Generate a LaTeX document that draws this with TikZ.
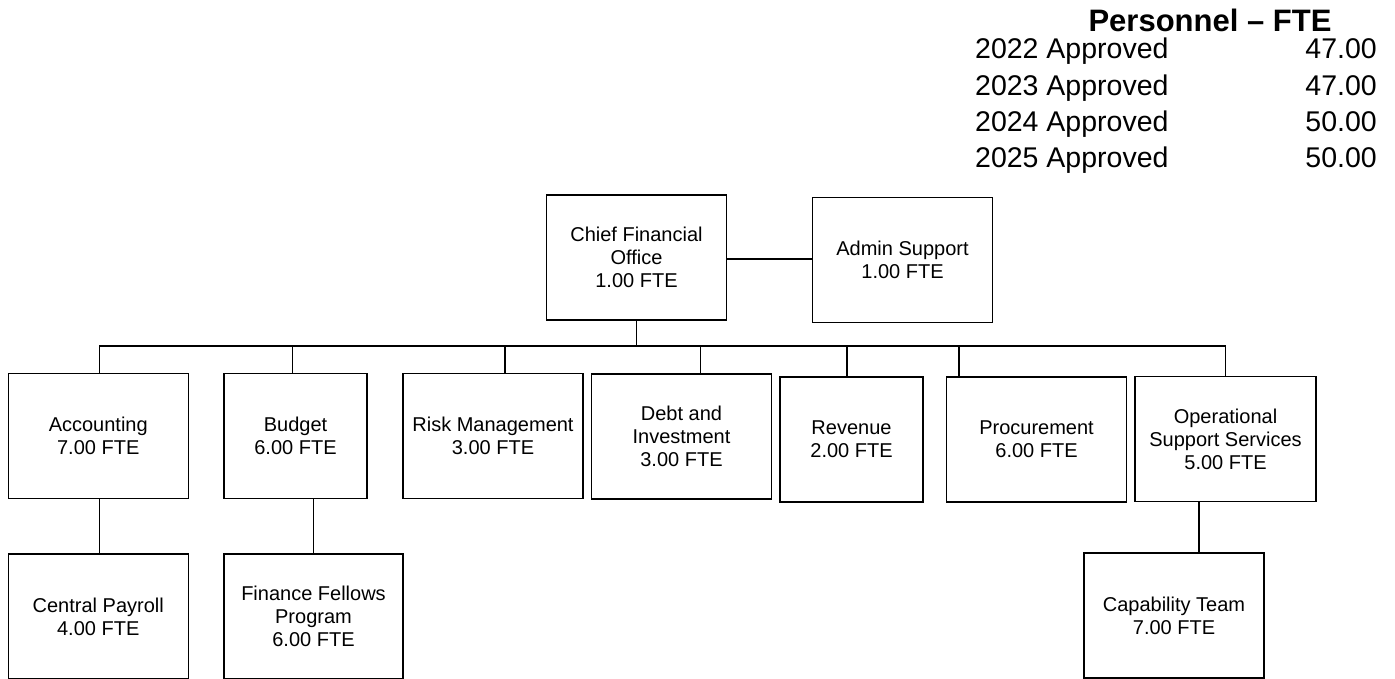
\documentclass[tikz,border=0pt]{standalone}
\usepackage{fontspec}
\setmainfont{Liberation Sans}
\usetikzlibrary{positioning}

\begin{document}
\begin{tikzpicture}[x=1pt,y=-1pt]
    \tikzstyle{unit}=[rectangle, draw=black, line width=1.5pt, align=center, inner sep=0pt, minimum width=180pt, minimum height=125pt, font=\fontsize{20}{23}\selectfont]
    \tikzstyle{narrow}=[unit, minimum width=143pt]
    \tikzstyle{link}=[line width=1.5pt]
    \tikzstyle{fte}=[inner sep=0pt, font=\fontsize{28.5}{34}\selectfont]

      \useasboundingbox (0,0) rectangle (1395,679);

      % personnel table
      \node[anchor=base, inner sep=0pt, font=\bfseries\fontsize{31}{36}\selectfont] (fte head) at (1210,32) {Personnel – FTE};
      \foreach \yr/\val [count=\i] in {2022/47.00, 2023/47.00, 2024/50.00, 2025/50.00} {
        \node[fte, anchor=base west] (year\i) at (975,{22.7+36.3*\i}) {\yr\ Approved};
        \node[fte, anchor=base east] (total\i) at (1377,{22.7+36.3*\i}) {\val};
      }

      \node[unit] (cfo) at (636.5,257.5) {Chief Financial\\Office\\1.00 FTE};
      \node[unit] (admin) at (902.5,260) {Admin Support\\1.00 FTE};
      \node[unit] (acct) at (98.25,436) {Accounting\\7.00 FTE};
      \node[narrow] (budget) at (295.5,436) {Budget\\6.00 FTE};
      \node[unit] (risk) at (493,436) {Risk Management\\3.00 FTE};
      \node[unit] (debt) at (681.5,436.5) {Debt and\\Investment\\3.00 FTE};
      \node[narrow] (revenue) at (851.5,439.5) {Revenue\\2.00 FTE};
      \node[unit] (procure) at (1036.5,439.5) {Procurement\\6.00 FTE};
      \node[unit, minimum width=181pt] (ops) at (1225.5,439) {Operational\\Support Services\\5.00 FTE};
      \node[unit] (payroll) [below=54pt of acct] {Central Payroll\\4.00 FTE};
      \node[unit, minimum width=179pt] (fellows) [below=54pt of budget.south west, anchor=north west] {Finance Fellows\\Program\\6.00 FTE};
      \node[unit] (capability) at (1174,615.5) {Capability Team\\7.00 FTE};

      \coordinate (bus) at (0,346);
      \draw[link] ([yshift=-1.5pt]cfo.east) -- ([yshift=-1.5pt]cfo.east -| admin.west);
      \draw[link] (cfo.south) -- (cfo.south |- bus);
      \draw[link] ([xshift=1pt]acct.north |- bus) -- (ops.north |- bus);
      \foreach \unitname/\dx in {acct/1, budget/-3, risk/12, debt/19, revenue/-4.5, procure/-77.5, ops/0}
        \draw[link] ([xshift=\dx pt]\unitname.north) -- ([xshift=\dx pt]\unitname.north |- bus);
      \draw[link] ([xshift=1pt]acct.south) -- ([xshift=1pt]payroll.north);
      \draw[link] (fellows.north) -- (fellows.north |- budget.south);
      \draw[link] ([xshift=25pt]capability.north) -- ([xshift=25pt]capability.north |- ops.south);
    \end{tikzpicture}
\end{document}
